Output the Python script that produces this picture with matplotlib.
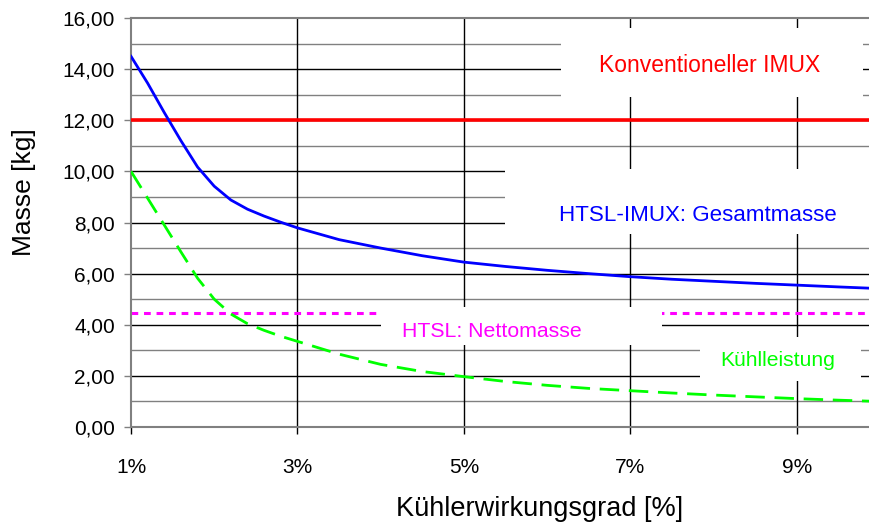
import matplotlib
matplotlib.use("Agg")
import matplotlib.pyplot as plt
from matplotlib.patches import Rectangle

plt.rcParams['font.family'] = ['Liberation Sans', 'DejaVu Sans']

# data
wirkungsgrad = [1.0, 1.2, 1.4, 1.6, 1.8, 2.0, 2.2, 2.4, 2.6, 2.8, 3.0, 3.5, 4.0,
                4.5, 5.0, 5.5, 6.0, 6.5, 7.0, 7.5, 8.0, 8.5, 9.0, 9.5, 9.88]
gesamtmasse = [14.5, 13.45, 12.3, 11.2, 10.17, 9.42, 8.88, 8.52, 8.25, 8.01, 7.79, 7.33, 7.0,
               6.7, 6.45, 6.28, 6.13, 6.0, 5.88, 5.78, 5.7, 5.62, 5.55, 5.48, 5.43]
kuehlleistung = [10.0, 8.95, 7.9, 6.85, 5.82, 5.0, 4.42, 4.04, 3.78, 3.55, 3.35, 2.85, 2.45,
                 2.17, 1.97, 1.78, 1.63, 1.51, 1.42, 1.33, 1.25, 1.18, 1.11, 1.05, 1.01]
konventionell = 12.0
nettomasse = 4.45

x_ticks = [1, 3, 5, 7, 9]
x_labels = ['1%', '3%', '5%', '7%', '9%']
y_ticks = [0, 2, 4, 6, 8, 10, 12, 14, 16]
y_labels = ['0,00', '2,00', '4,00', '6,00', '8,00', '10,00', '12,00', '14,00', '16,00']

fig = plt.figure(figsize=(8.7, 5.22), dpi=100)
ax = fig.add_axes([131/870, 1 - 427/522, 1 - 131/870, (427 - 18)/522])

ax.set_xlim(1, 9.88)
ax.set_ylim(0, 16)

# gridlines
for v in range(1, 16):
    ax.axhline(v, color='black' if v % 2 == 0 else '#808080', lw=1, zorder=1)
for v in x_ticks[1:]:
    ax.axvline(v, color='black', lw=1, zorder=1)

# lines
ax.axhline(konventionell, color='#FF0000', lw=2.6, zorder=4)
ax.axhline(nettomasse, color='#FF00FF', lw=2.2, dashes=(2.2, 1.9), zorder=2)
ax.plot(wirkungsgrad, gesamtmasse, color='#0000FF', lw=2.0, zorder=4)
ax.plot(wirkungsgrad, kuehlleistung, color='#00FF00', lw=2.0, dashes=(7, 3.5), zorder=4)

# white text boxes
boxes = [(6.17, 12.89, 3.62, 2.70), (5.50, 7.54, 4.6, 2.54),
         (4.00, 3.20, 3.38, 1.49), (7.84, 1.80, 1.93, 1.72)]
for bx, by, bw, bh in boxes:
    ax.add_patch(Rectangle((bx, by), bw, bh, facecolor='white', edgecolor='none',
                           zorder=3, clip_on=False))

ax.text(7.947, 13.87, 'Konventioneller IMUX', color='#FF0000', fontsize=16.5,
        ha='center', va='baseline', zorder=5)
ax.text(7.81, 8.05, 'HTSL-IMUX: Gesamtmasse', color='#0000FF', fontsize=16.1,
        ha='center', va='baseline', zorder=5)
ax.text(5.34, 3.52, 'HTSL: Nettomasse', color='#FF00FF', fontsize=15.3,
        ha='center', va='baseline', zorder=5)
ax.text(8.77, 2.38, 'Kühlleistung', color='#00FF00', fontsize=15.2,
        ha='center', va='baseline', zorder=5)

# axes styling
for s in ['left', 'bottom', 'top']:
    ax.spines[s].set_color('#808080')
    ax.spines[s].set_linewidth(1.5)
ax.spines['right'].set_visible(False)

ax.set_xticks(x_ticks)
ax.set_xticklabels(x_labels)
ax.set_yticks(y_ticks)
ax.set_yticklabels(y_labels)
ax.tick_params(axis='x', direction='out', length=5, width=1, color='black', pad=17,
               labelsize=15)
ax.tick_params(axis='y', direction='out', length=5, width=1, color='#808080', pad=6.5,
               labelsize=15)

ax.set_xlabel('Kühlerwirkungsgrad [%]', fontsize=19.5)
ax.xaxis.set_label_coords((540 - 131)/739, -0.168)
ax.set_ylabel('Masse [kg]', fontsize=19)
ax.yaxis.set_label_coords(-0.128, 0.575)

fig.savefig('out.png', dpi=100)
